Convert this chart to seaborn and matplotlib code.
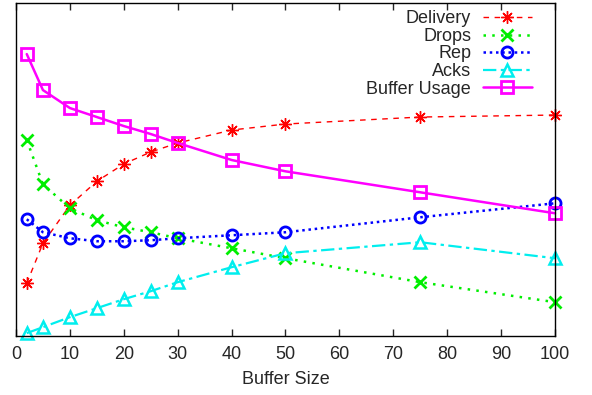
import matplotlib
matplotlib.use("Agg")
import matplotlib.pyplot as plt
import seaborn as sns

sns.set_style("white")
plt.rcParams["font.family"] = ["Liberation Sans", "DejaVu Sans"]

buffer_size = [2, 5, 10, 15, 20, 25, 30, 40, 50, 75, 100]
delivery = [0.159, 0.279, 0.393, 0.465, 0.517, 0.553, 0.580, 0.619, 0.637, 0.658, 0.664]
drops = [0.589, 0.456, 0.384, 0.348, 0.327, 0.312, 0.294, 0.264, 0.234, 0.162, 0.102]
rep = [0.351, 0.312, 0.294, 0.285, 0.285, 0.288, 0.294, 0.303, 0.312, 0.357, 0.399]
acks = [0.009, 0.027, 0.057, 0.084, 0.111, 0.135, 0.162, 0.207, 0.249, 0.282, 0.234]
buffer_usage = [0.847, 0.739, 0.685, 0.658, 0.631, 0.607, 0.580, 0.529, 0.495, 0.432, 0.369]
x_ticks = [0, 10, 20, 30, 40, 50, 60, 70, 80, 90, 100]

fig = plt.figure(figsize=(5.92, 3.95), dpi=100)
ax = fig.add_axes([0.027, 0.149, 0.9105, 0.843])

series = [
    ("Delivery", delivery, "#ff0000",
     dict(marker=(8, 2, 0), markersize=9, markeredgewidth=1.0, linestyle=(0, (4, 4)), linewidth=1.0)),
    ("Drops", drops, "#00ee00",
     dict(marker="x", markersize=8, markeredgewidth=2.0, linestyle=(0, (1, 2.5)), linewidth=1.8)),
    ("Rep", rep, "#0000ff",
     dict(marker="o", markersize=8, fillstyle="none", markeredgewidth=2.0, linestyle=(0, (1, 1.5)), linewidth=1.8)),
    ("Acks", acks, "#00eeee",
     dict(marker="^", markersize=8.5, fillstyle="none", markeredgewidth=1.8, linestyle=(0, (6, 2, 1.5, 2)), linewidth=1.6)),
    ("Buffer Usage", buffer_usage, "#ff00ff",
     dict(marker="s", markersize=8, fillstyle="none", markeredgewidth=2.0, linestyle="-", linewidth=1.8)),
]

handles = []
for name, values, color, style in series:
    sns.lineplot(x=buffer_size, y=values, ax=ax, color=color, legend=False)
    line = ax.lines[-1]
    line.set(label=name, clip_on=False, color=color, markeredgecolor=color, **style)
    handles.append(line)

ax.set_xlim(0, 100)
ax.set_ylim(0, 1)
ax.set_xticks(x_ticks)
ax.set_xticklabels([str(t) for t in x_ticks], fontsize=13)
ax.set_yticks([])
ax.tick_params(axis="x", direction="in", length=5, width=1, top=True, bottom=True, pad=7)
for side in ax.spines.values():
    side.set_color("black")
    side.set_linewidth(1.0)
ax.set_xlabel("Buffer Size", fontsize=13, labelpad=6)
ax.set_ylabel("")

leg = ax.legend(handles=handles, loc="upper right", frameon=False, markerfirst=False, fontsize=13,
                handlelength=2.7, labelspacing=0.03, borderaxespad=0.0,
                bbox_to_anchor=(0.97, 1.0), handletextpad=0.65)
for text in leg.get_texts():
    text.set_ha("right")
leg._legend_box.align = "right"

fig.savefig("out.png", dpi=100)
